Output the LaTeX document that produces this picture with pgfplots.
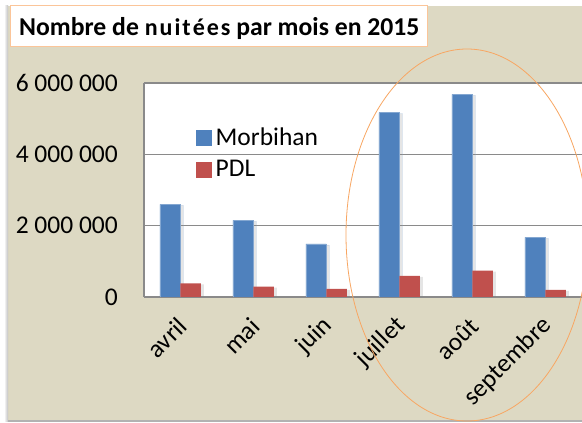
\documentclass[border=0pt]{standalone}
\usepackage{fontspec}
\setmainfont{Carlito}
\usepackage{pgfplots}
\pgfplotsset{compat=1.18}
\usetikzlibrary{shadows}
\definecolor{mblue}{HTML}{4F81BD}
\definecolor{pred}{HTML}{C0504D}
\definecolor{bg}{HTML}{DDD9C3}
\definecolor{gridg}{HTML}{8A8A8A}
\definecolor{orng}{HTML}{F79646}
\begin{document}
\begin{tikzpicture}[x=1pt,y=1pt]
\useasboundingbox (0,0) rectangle (582,423);
\clip (0,0) rectangle (582,423);
\fill[white] (0,0) rectangle (582,423);
\fill[bg] (8,3) rectangle (590,417);
\fill[black!30] (8,1) rectangle (590,3);
\shade[left color=white,right color=black!25] (4,1) rectangle (8,417);
\begin{axis}[
  at={(144pt,126pt)}, anchor=south west,
  scale only axis, width=438pt, height=214pt,
  xmin=-0.5, xmax=5.5, ymin=0, ymax=6000000,
  scaled y ticks=false,
  axis background/.style={fill=white},
  axis x line*=bottom, axis y line*=left,
  axis line style={-, draw=gridg, line width=2pt},
  ytick={0,2000000,4000000,6000000},
  yticklabels={0,2~000~000,4~000~000,6~000~000},
  ymajorgrids, major grid style={draw=gridg, line width=1.5pt},
  major tick length=0pt,
  xtick={0,...,5}, xticklabels={avril,mai,juin,juillet,août,septembre},
  tick label style={font=\fontsize{25.5}{30}\selectfont},
  yticklabel style={anchor=east, inner sep=0pt, xshift=-26pt},
  xticklabel style={xshift=2pt, yshift=-25pt, rotate=45, anchor=east, inner sep=0pt},
  ybar=0pt, bar width=20.5pt,
  legend style={draw=none, fill=none, at={(0.112,0.80)}, anchor=north west,
    font=\fontsize{25.5}{30}\selectfont, row sep=13pt, column sep=4pt,
    nodes={inner sep=0pt}},
  legend cell align=left,
]
\addlegendimage{legend image code/.code={\fill[mblue] (0pt,-8pt) rectangle (15pt,7pt);}}
\addlegendimage{legend image code/.code={\fill[pred] (0pt,-8pt) rectangle (15pt,7pt);}}
\addplot[fill=mblue, draw=mblue!70!white, forget plot, bar shift=-10.25pt,
  drop shadow={shadow xshift=3pt, shadow yshift=-1pt, opacity=0.2}]
  coordinates {(0,2600000) (1,2150000) (2,1490000) (3,5170000) (4,5680000) (5,1670000)};
\addplot[fill=pred, draw=none, forget plot, bar shift=10.25pt,
  drop shadow={shadow xshift=3pt, shadow yshift=-1pt, opacity=0.2}]
  coordinates {(0,380000) (1,290000) (2,230000) (3,590000) (4,740000) (5,200000)};
\legend{Morbihan,PDL}
\end{axis}
\draw[orng!55, fill=white, line width=1pt] (10,376.3) rectangle (427,417);
\node[anchor=base west, inner sep=0pt, font=\bfseries\fontsize{25.7}{30}\selectfont] at (19,387)
  {Nombre de {\fontsize{24}{26}\selectfont n\kern2pt u\kern2pt i\kern2pt t\kern2pt é\kern2pt e\kern2pt s} par mois en 2015};
\draw[orng!85, line width=0.8pt] (467,188) ellipse [x radius=121, y radius=186];
\end{tikzpicture}
\end{document}
